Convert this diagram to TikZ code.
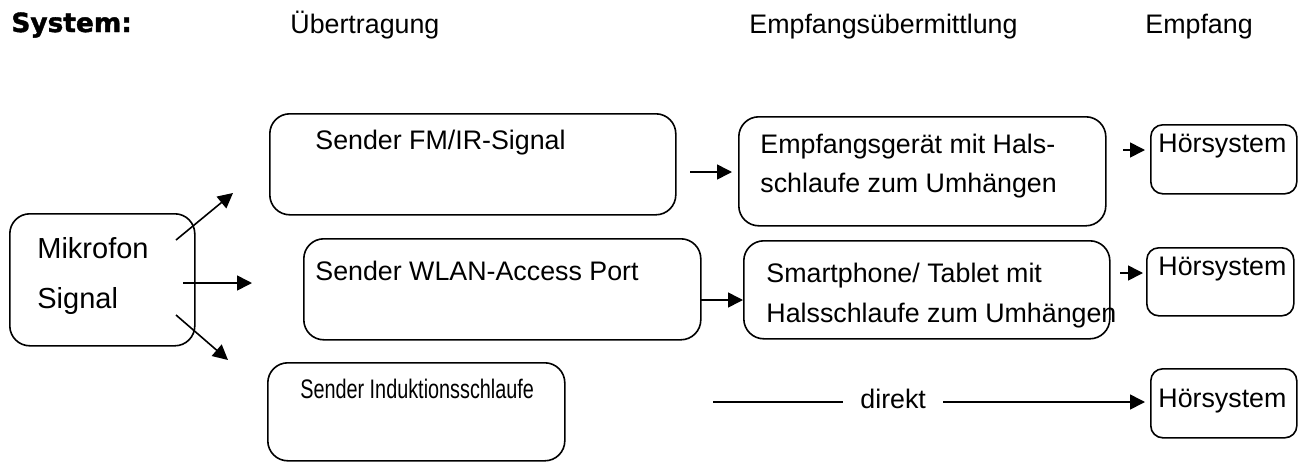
\documentclass[tikz,border=0pt]{standalone}
\usepackage{fontspec}
\setmainfont{Liberation Sans}
\newfontfamily\headfont{DejaVu Sans}[BoldFeatures={FakeBold=1.5}]
\usetikzlibrary{arrows.meta,positioning}

\begin{document}
\begin{tikzpicture}[x=0.5pt,y=0.5pt,
   box/.style={draw, line width=0.8pt, rounded corners=10pt, anchor=north west, inner sep=0pt},
   sbox/.style={box, rounded corners=6pt},
   txt/.style={anchor=base west, inner sep=0pt, align=left, font=\fontsize{13.4}{20}\selectfont},
   arr/.style={line width=0.8pt, -{Triangle[length=7.5pt,width=7.5pt]}}]
   \useasboundingbox (0,0) rectangle (1301,-461);

   % Kopfzeile
   \node[anchor=base west, inner sep=0pt, font=\headfont\bfseries\fontsize{13.2}{15}\selectfont] (sys) at (11,-32) {System:} ; %
   \node[txt] (hdue)   at (290,-33)  {Übertragung} ; %
   \node[txt] (hdeu)   at (749,-33)  {Empfangsübermittlung} ; %
   \node[txt] (hdemp)  at (1145,-33) {Empfang} ; %

   % Kaesten
   \node[box, minimum width=92.5pt, minimum height=66pt]  (mik)   at (9,-213)   {} ; %
   \node[box, minimum width=203pt, minimum height=50.5pt] (fm)    at (269,-113) {} ; %
   \node[box, minimum width=198.5pt, minimum height=50.5pt] (wlan) at (303,-238) {} ; %
   \node[box, minimum width=148.5pt, minimum height=49pt] (ind)   at (267,-362) {} ; %
   \node[box, minimum width=183.5pt, minimum height=54.5pt] (emp) at (738,-116) {} ; %
   \node[box, minimum width=183pt, minimum height=49pt]   (smart) at (743,-240) {} ; %
   \node[sbox, minimum width=73pt, minimum height=34.5pt] (hs1)   at (1150,-124) {} ; %
   \node[sbox, minimum width=73.5pt, minimum height=34pt] (hs2)   at (1146,-247) {} ; %
   \node[sbox, minimum width=73pt, minimum height=34.5pt] (hs3)   at (1150,-368) {} ; %

   % Beschriftungen (Grundlinie der letzten Zeile)
   \node[txt, font=\fontsize{14.5}{25}\selectfont] (mikt) at (37,-308) {Mikrofon\\Signal} ; %
   \node[txt] (fmt)    at (315,-149) {Sender FM/IR-Signal} ; %
   \node[txt] (wlant)  at (315,-280) {Sender WLAN-Access Port} ; %
   \node[txt, xscale=0.74] (indt) at (300,-398) {Sender Induktionsschlaufe} ; %
   \node[txt, font=\fontsize{13.4}{19.5}\selectfont] (empt) at (760,-192) {Empfangsgerät mit Hals-\\schlaufe zum Umhängen} ; %
   \node[txt] (smartt) at (766,-322) {Smartphone/ Tablet mit\\Halsschlaufe zum Umhängen} ; %
   \node[txt] (hs1t)   at (1158,-152) {Hörsystem} ; %
   \node[txt] (hs2t)   at (1158,-275) {Hörsystem} ; %
   \node[txt] (hs3t)   at (1158,-407) {Hörsystem} ; %
   \node[txt] (dir)    at (860,-408)  {direkt} ; %

   % Pfeilenden
   \coordinate (m1) at (176,-240) ; \coordinate (e1) at (233,-193) ; %
   \coordinate (m2) at (183,-283) ; \coordinate (e2) at (252,-283) ; %
   \coordinate (m3) at (176,-315) ; \coordinate (e3) at (228,-360) ; %
   \coordinate (f1) at (690,-172) ; %
   \coordinate (w1) at (700,-300) ; %
   \coordinate (r1) at (1123,-150) ; %
   \coordinate (r2) at (1120,-273) ; %
   \coordinate (d1) at (713,-402) ; \coordinate (d2) at (843,-402) ; %
   \coordinate (d3) at (943,-402) ; %

   \draw[arr] (m1) -- (e1) ; %
   \draw[arr] (m2) -- (e2) ; %
   \draw[arr] (m3) -- (e3) ; %
   \draw[arr, shorten >=3pt] (f1) -- (f1 -| emp.west) ; %
   \draw[arr] (w1) -- (w1 -| smart.west) ; %
   \draw[arr, shorten >=2.5pt] (r1) -- (r1 -| hs1.west) ; %
   \draw[arr, shorten >=1.5pt] (r2) -- (r2 -| hs2.west) ; %
   \draw[line width=0.8pt] (d1) -- (d2) ; %
   \draw[arr, shorten >=2.5pt] (d3) -- (d3 -| hs3.west) ; %

\end{tikzpicture}
\end{document}
